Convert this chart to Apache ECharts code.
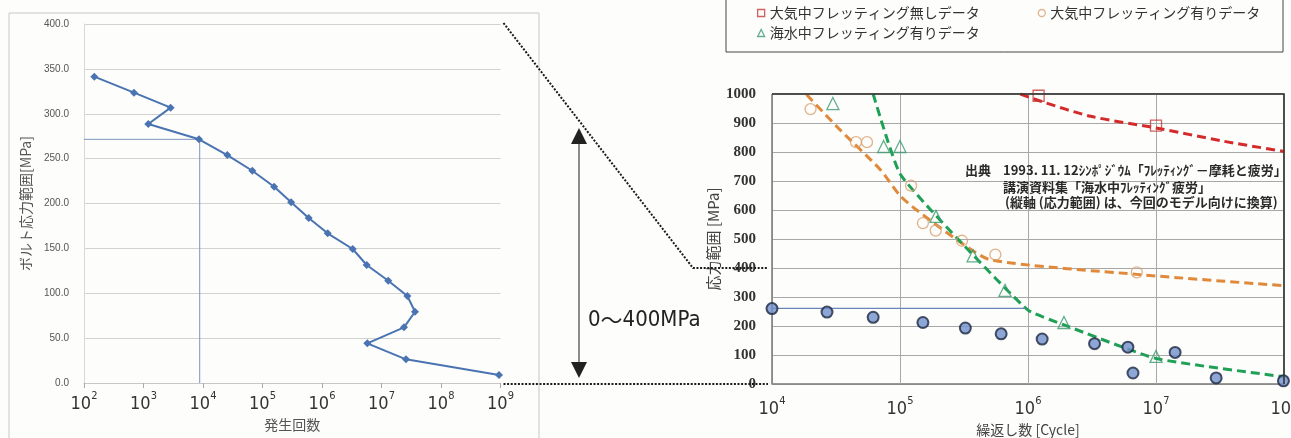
<!DOCTYPE html>
<html><head><meta charset="utf-8">
<script src="https://cdn.jsdelivr.net/npm/echarts@6/dist/echarts.min.js"></script>
<style>html,body{margin:0;padding:0;background:#fdfdfb}#c{width:1291px;height:438px}</style>
</head><body><div id="c"></div>
<script>
// ---- left chart: bolt stress range histogram ----
const leftCycles = [149, 692, 2860, 1205, 8570, 25600, 67400, 157000, 303000, 597000, 1245000, 3280000, 5640000, 13000000, 27200000, 36600000, 23900000, 5770000, 25800000, 944000000];
const leftStress = [341.3, 323.5, 306.8, 288.6, 271.5, 254, 236.5, 218.7, 201.3, 183.8, 166.8, 149.3, 131.5, 114, 96.9, 79.4, 62, 44.2, 26.4, 8.9];
const leftRefCycles = [100, 8800, 8800];
const leftRefStress = [271.5, 271.5, 0];

// ---- right chart: S-N data ----
const legendNames = ['大気中フレッティング無しデータ', '大気中フレッティング有りデータ', '海水中フレッティング有りデータ'];
const redCycles = [1210000, 10000000];
const redStress = [994, 891];
const redFitCycles = [871000, 1260000, 3090000, 10000000, 33900000, 100000000];
const redFitStress = [1000, 975, 923, 883, 837, 802];
const orangeCycles = [20000, 45300, 55200, 122000, 151000, 190000, 305000, 556000, 7080000];
const orangeStress = [948, 834, 834, 684, 555, 529, 494, 446, 385];
const orangeFitCycles = [18600, 33900, 70200, 100000, 134900, 295100, 512900, 7080000, 100000000];
const orangeFitStress = [998, 877, 739, 650, 600, 490, 428, 378, 339];
const greenCycles = [29900, 74500, 100000, 191000, 372000, 661000, 1910000, 10000000];
const greenStress = [967, 819, 819, 578, 442, 323, 212, 95];
const greenFitCycles = [61700, 100000, 316000, 1000000, 1910000, 10000000, 100000000];
const greenFitStress = [1000, 725, 478, 255, 204, 88, 25];
const blueCycles = [10000, 26900, 61700, 151000, 324000, 617000, 1290000, 3310000, 6030000, 6610000, 14100000, 29500000, 99000000];
const blueStress = [260, 248, 230, 212, 193, 173, 155, 139, 127, 38, 109, 21, 11];
const blueRefCycles = [10000, 950000];
const blueRefStress = [261, 261];

const noteLines = ['1993. 11. 12ｼﾝﾎﾟｼﾞｳﾑ「ﾌﾚｯﾃｨﾝｸﾞ－摩耗と疲労」', '講演資料集「海水中ﾌﾚｯﾃｨﾝｸﾞ疲労」', '(縦軸 (応力範囲) は、今回のモデル向けに換算)'];
const noteHead = '出典';
const rangeLabelParts = ['0', '～', '400MPa'];

const zip = (a, b) => a.map((v, i) => [v, b[i]]);
const NARROW = "'Liberation Sans Narrow','DejaVu Sans Condensed','Liberation Sans',sans-serif";
const JP = "'Noto Sans CJK JP','Noto Sans',sans-serif";
const supFmt = v => '{b|10}{s|' + Math.round(Math.log10(v)) + '}';
const supRich = {
  b: {fontSize: 18, fontFamily: NARROW, color: '#333', lineHeight: 22, verticalAlign: 'bottom'},
  s: {fontSize: 11, fontFamily: NARROW, color: '#333', lineHeight: 12, verticalAlign: 'top'}
};
const hollow = c => ({color: 'rgba(255,255,255,0)', borderColor: c, borderWidth: 1.3});

const chart = echarts.init(document.getElementById('c'), null, {renderer: 'canvas'});
chart.setOption({
  animation: false,
  backgroundColor: '#fdfdfb',
  grid: [
    {left: 84, right: 790.5, top: 24, bottom: 55, outerBoundsMode: 'none', containLabel: false},
    {left: 772, right: 7, top: 94, bottom: 54, outerBoundsMode: 'none', containLabel: false, show: true, borderColor: '#333', borderWidth: 1, backgroundColor: 'rgba(0,0,0,0)'}
  ],
  xAxis: [
    {gridIndex: 0, type: 'log', logBase: 10, min: 100, max: 1e9, splitNumber: 7,
     name: '発生回数', nameLocation: 'middle', nameGap: 35,
     nameTextStyle: {fontFamily: JP, fontSize: 14, color: '#555'},
     axisLine: {show: true, lineStyle: {color: '#c8c8c8'}},
     axisTick: {show: true, length: 5, lineStyle: {color: '#aaa'}},
     splitLine: {show: false}, minorTick: {show: false},
     axisLabel: {margin: 8, formatter: supFmt, rich: supRich}},
    {gridIndex: 1, type: 'log', logBase: 10, min: 1e4, max: 1e8, splitNumber: 4,
     name: '繰返し数 [Cycle]', nameLocation: 'middle', nameGap: 38,
     nameTextStyle: {fontFamily: JP, fontSize: 14, color: '#444'},
     axisLine: {show: true, lineStyle: {color: '#8a8a8a'}},
     axisTick: {show: false},
     splitLine: {show: true, lineStyle: {color: '#a8a8a8', width: 1}},
     axisLabel: {margin: 12, formatter: supFmt, rich: supRich, showMaxLabel: true}}
  ],
  yAxis: [
    {gridIndex: 0, type: 'value', min: 0, max: 400, interval: 50,
     name: 'ボルト応力範囲[MPa]', nameLocation: 'middle', nameGap: 51, nameRotate: 90,
     nameTextStyle: {fontFamily: JP, fontSize: 14, color: '#555'},
     axisLine: {show: true, lineStyle: {color: '#d8d8d8'}}, axisTick: {show: false},
     splitLine: {show: true, lineStyle: {color: '#d2d2d2', width: 1}},
     axisLabel: {margin: 15, fontSize: 10, fontFamily: "'Liberation Sans',sans-serif", color: '#555', formatter: v => v.toFixed(1)}},
    {gridIndex: 1, type: 'value', min: 0, max: 1000, interval: 100,
     name: '応力範囲 [MPa]', nameLocation: 'middle', nameGap: 51, nameRotate: 90,
     nameTextStyle: {fontFamily: JP, fontSize: 15, color: '#444'},
     axisLine: {show: true, lineStyle: {color: '#8a8a8a'}}, axisTick: {show: false},
     splitLine: {show: true, lineStyle: {color: '#a8a8a8', width: 1}},
     axisLabel: {margin: 16, fontSize: 15, fontWeight: 'bold', fontFamily: "'Liberation Serif',serif", color: '#333', formatter: v => String(v)}}
  ],
  legend: [
    {data: [
      {name: legendNames[0], icon: 'rect', itemStyle: hollow('#c43a3a')},
      {name: legendNames[1], icon: 'circle', itemStyle: hollow('#d9a070')}],
     left: 757, top: 5, padding: 0, itemWidth: 7, itemHeight: 7, itemGap: 58, selectedMode: false,
     textStyle: {fontFamily: JP, fontSize: 14, color: '#333', lineHeight: 16}},
    {data: [{name: legendNames[2], icon: 'triangle', itemStyle: hollow('#3b9a70')}],
     left: 757, top: 25, padding: 0, itemWidth: 7, itemHeight: 7, selectedMode: false,
     textStyle: {fontFamily: JP, fontSize: 14, color: '#333', lineHeight: 16}}
  ],
  series: [
    {type: 'line', xAxisIndex: 0, yAxisIndex: 0, data: zip(leftRefCycles, leftRefStress), symbol: 'none',
     lineStyle: {color: '#7d97bf', width: 1}, silent: true, z: 2},
    {type: 'line', xAxisIndex: 0, yAxisIndex: 0, data: zip(leftCycles, leftStress), symbol: 'diamond', symbolSize: 8,
     lineStyle: {color: '#4a73b2', width: 2}, itemStyle: {color: '#4a73b2'}, z: 3},
    // fits
    {type: 'line', xAxisIndex: 1, yAxisIndex: 1, data: zip(redFitCycles, redFitStress), symbol: 'none', smooth: 0.3,
     lineStyle: {color: '#d42a2a', width: 3, type: [9, 5]}, z: 2},
    {type: 'line', xAxisIndex: 1, yAxisIndex: 1, data: zip(orangeFitCycles, orangeFitStress), symbol: 'none', smooth: 0.25,
     lineStyle: {color: '#e0893a', width: 3, type: [9, 5]}, z: 2},
    {type: 'line', xAxisIndex: 1, yAxisIndex: 1, data: zip(greenFitCycles, greenFitStress), symbol: 'none', smooth: 0.15,
     lineStyle: {color: '#1fa057', width: 3, type: [9, 5]}, z: 2},
    {type: 'line', xAxisIndex: 1, yAxisIndex: 1, data: zip(blueRefCycles, blueRefStress), symbol: 'none',
     lineStyle: {color: '#6a86b8', width: 1.2}, z: 2},
    // data
    {name: legendNames[0], type: 'scatter', xAxisIndex: 1, yAxisIndex: 1, data: zip(redCycles, redStress),
     symbol: 'rect', symbolSize: 11, itemStyle: hollow('#c43a3a'), z: 4},
    {name: legendNames[1], type: 'scatter', xAxisIndex: 1, yAxisIndex: 1, data: zip(orangeCycles, orangeStress),
     symbol: 'circle', symbolSize: 11, itemStyle: hollow('#d9a070'), z: 4},
    {name: legendNames[2], type: 'scatter', xAxisIndex: 1, yAxisIndex: 1, data: zip(greenCycles, greenStress),
     symbol: 'triangle', symbolSize: 12, itemStyle: hollow('#3b9a70'), z: 4},
    {type: 'scatter', xAxisIndex: 1, yAxisIndex: 1, data: zip(blueCycles, blueStress),
     symbol: 'circle', symbolSize: 11, itemStyle: {color: '#7090cc', borderColor: '#1b2740', borderWidth: 2}, z: 5}
  ]
});

// annotations tied to the axes
const pL400 = chart.convertToPixel({gridIndex: 0}, [1e9, 400]);
const pL0 = chart.convertToPixel({gridIndex: 0}, [1e9, 0]);
const pR400 = chart.convertToPixel({gridIndex: 1}, [1e4, 400]);
const pR0 = chart.convertToPixel({gridIndex: 1}, [1e4, 0]);
const pRtl = chart.convertToPixel({gridIndex: 1}, [1e4, 1000]);
const pRbr = chart.convertToPixel({gridIndex: 1}, [1e8, 0]);
const dot = {stroke: '#1a1a1a', lineWidth: 2, lineDash: [2, 1.6], fill: null};
const ax = 579;
const noteFont = "bold 13px " + JP;
chart.setOption({
  graphic: [
    {type: 'rect', shape: {x: 9, y: 13, width: 530, height: 470}, style: {stroke: '#c8c8c8', lineWidth: 1, fill: null}, silent: true, z: -1},
    {type: 'rect', shape: {x: 726, y: -10, width: 557, height: 62}, style: {stroke: '#444', lineWidth: 1, fill: null}, silent: true},
    {type: 'polyline', shape: {points: [[pRtl[0], pRtl[1]], [pRbr[0], pRtl[1]], [pRbr[0], pRbr[1]]]}, style: {stroke: '#333', lineWidth: 1.5, fill: null}, z: 10, silent: true},
    {type: 'polyline', shape: {points: [[pL400[0] + 3, pL400[1] - 1], [pR400[0] - 79, pR400[1]], [pR400[0] - 4, pR400[1]]]}, style: dot, z: 20, silent: true},
    {type: 'polyline', shape: {points: [[pL0[0] + 3, pL0[1] + 1], [pR0[0] - 4, pR0[1]]]}, style: dot, z: 20, silent: true},
    {type: 'line', shape: {x1: ax, y1: 142, x2: ax, y2: 364}, style: {stroke: '#666', lineWidth: 1.5}, silent: true},
    {type: 'polygon', shape: {points: [[ax, 128], [ax - 8, 144], [ax + 8, 144]]}, style: {fill: '#222'}, silent: true},
    {type: 'polygon', shape: {points: [[ax, 378], [ax - 8, 362], [ax + 8, 362]]}, style: {fill: '#222'}, silent: true},
    {type: 'text', x: 588, y: 320, silent: true, style: {
      text: '{n|' + rangeLabelParts[0] + '}{w|' + rangeLabelParts[1] + '}{n|' + rangeLabelParts[2] + '}',
      textVerticalAlign: 'middle',
      rich: {n: {fontSize: 22, fontFamily: NARROW, fill: '#222', color: '#222'},
             w: {fontSize: 22, fontFamily: JP, fill: '#222', color: '#222'}}}},
    {type: 'text', x: 965, y: 170, style: {text: noteHead, font: noteFont, fill: '#2a2a2a', textVerticalAlign: 'middle'}, silent: true},
    {type: 'text', x: 1003, y: 170, style: {text: noteLines[0], font: noteFont, fill: '#2a2a2a', textVerticalAlign: 'middle'}, silent: true},
    {type: 'text', x: 1003, y: 186.7, style: {text: noteLines[1], font: noteFont, fill: '#2a2a2a', textVerticalAlign: 'middle'}, silent: true},
    {type: 'text', x: 1005, y: 201.7, style: {text: noteLines[2], font: noteFont, fill: '#2a2a2a', textVerticalAlign: 'middle'}, silent: true}
  ]
});
</script></body></html>
